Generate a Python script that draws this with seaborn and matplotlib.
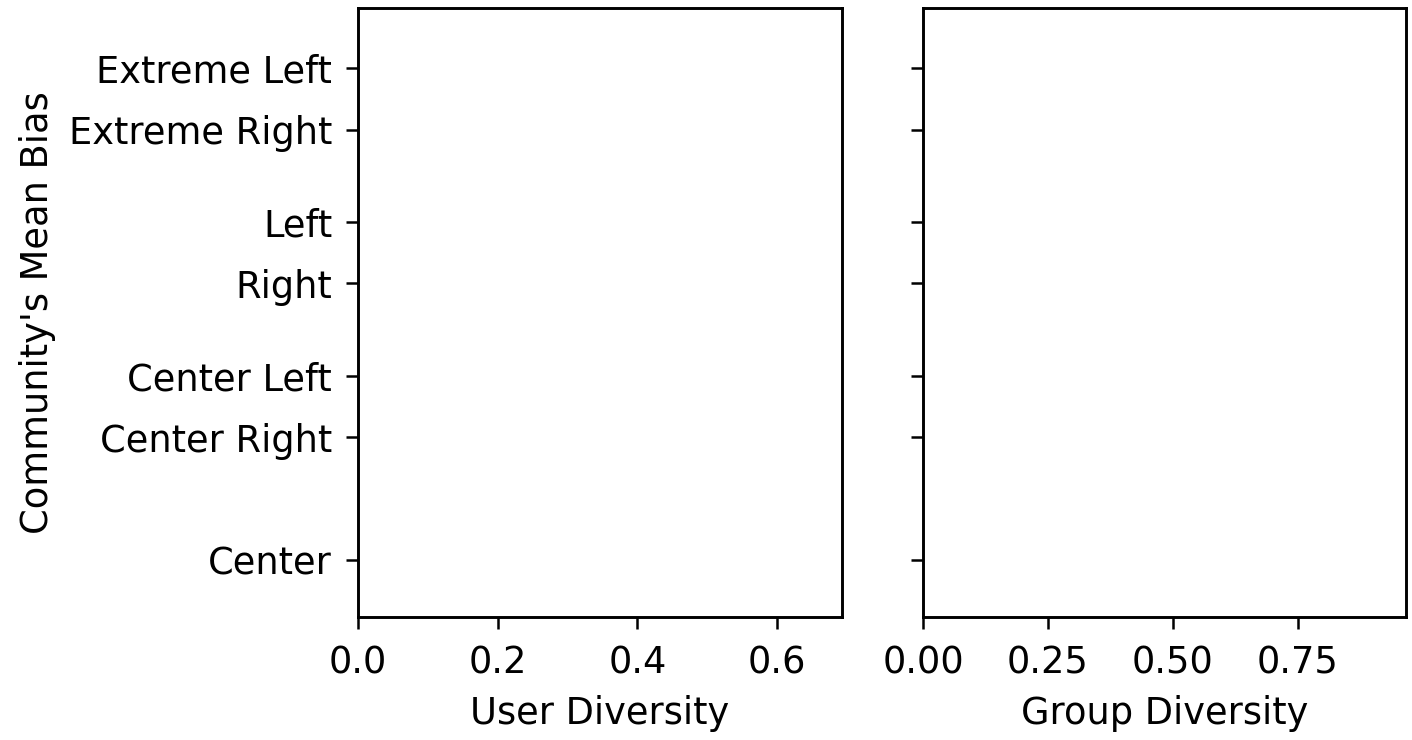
import matplotlib
matplotlib.use("Agg")
import matplotlib.pyplot as plt
import seaborn as sns

# Community bias groups and their dodged row positions (two hue levels per group)
bias_labels = ["Extreme Left", "Extreme Right", "Left", "Right",
               "Center Left", "Center Right", "Center"]
bias_positions = [-0.2, 0.2, 0.8, 1.2, 1.8, 2.2, 3.0]

user_ticks = [0.0, 0.2, 0.4, 0.6]
user_tick_labels = ["0.0", "0.2", "0.4", "0.6"]
group_ticks = [0.0, 0.25, 0.50, 0.75]
group_tick_labels = ["0.00", "0.25", "0.50", "0.75"]

sns.set_theme(style="ticks")
plt.rcParams["font.family"] = ["DejaVu Sans"]
plt.rcParams.update({
    "axes.edgecolor": "black",
    "axes.linewidth": 2.1,
    "xtick.color": "black",
    "ytick.color": "black",
    "xtick.major.size": 8.5,
    "ytick.major.size": 8.5,
    "xtick.major.width": 1.8,
    "ytick.major.width": 1.8,
    "xtick.major.pad": 11,
    "ytick.major.pad": 10,
    "text.color": "black",
    "axes.labelcolor": "black",
})

fig = plt.figure(figsize=(14.12, 7.40), dpi=100)
ax1 = fig.add_axes([0.2535, 0.1662, 0.3428, 0.8230])
ax2 = fig.add_axes([0.6537, 0.1662, 0.3421, 0.8230], sharey=ax1)

fs = 26.5
for ax in (ax1, ax2):
    sns.despine(ax=ax, top=False, right=False)
    ax.set_ylim(3.371, -0.592)
    ax.set_yticks(bias_positions)
    ax.tick_params(axis="both", labelsize=fs)

ax1.set_yticklabels(bias_labels, fontsize=fs)
ax1.set_xlim(0, 0.693)
ax1.set_xticks(user_ticks)
ax1.set_xticklabels(user_tick_labels, fontsize=fs)
ax1.set_xlabel("User Diversity", fontsize=fs, labelpad=10)
ax1.set_ylabel("Community's Mean Bias", fontsize=fs, labelpad=9)

ax2.tick_params(axis="y", labelleft=False)
ax2.set_xlim(0, 0.966)
ax2.set_xticks(group_ticks)
ax2.set_xticklabels(group_tick_labels, fontsize=fs)
ax2.set_xlabel("Group Diversity", fontsize=fs, labelpad=10)

fig.savefig("out.png", dpi=100)
